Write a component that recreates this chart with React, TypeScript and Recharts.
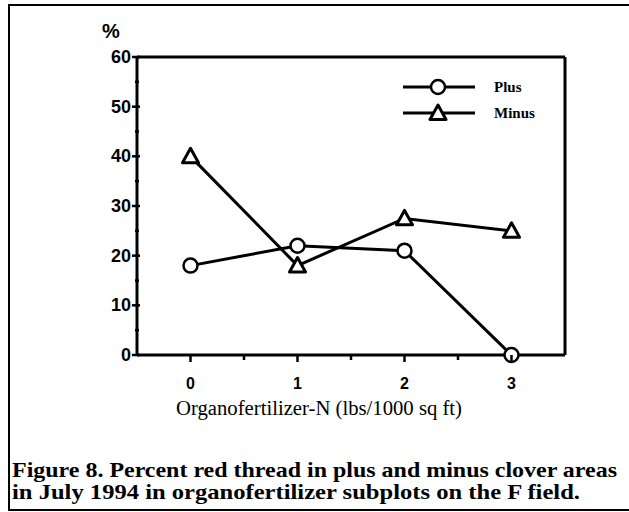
import { Line, LineChart, ReferenceLine, XAxis, YAxis } from 'recharts'

const doses = [0, 1, 2, 3]
const plusValues = [18, 22, 21, 0]
const minusValues = [40, 18, 27.5, 25]
const xTicks = [-0.5, 0, 0.5, 1, 1.5, 2, 2.5, 3, 3.5]
const yTicks = [0, 5, 10, 15, 20, 25, 30, 35, 40, 45, 50, 55, 60]
const seriesNames = ['Plus', 'Minus']
const xTitle = 'Organofertilizer-N (lbs/1000 sq ft)'
const yUnit = '%'
const captionLines = [
  'Figure 8. Percent red thread in plus and minus clover areas',
  'in July 1994 in organofertilizer subplots on the F field.',
]

const sans = '"Liberation Sans", Arial, sans-serif'
const serif = '"Liberation Serif", "Times New Roman", serif'

function XTick(props: any) {
  const { x, y, payload } = props
  const v = payload.value as number
  if (v === -0.5 || v === 3.5) return <g />
  const major = Number.isInteger(v)
  return (
    <g>
      <line x1={x} x2={x} y1={y} y2={y + (major ? 7 : 5)} stroke="#000" strokeWidth={2.5} />
      {major && (
        <text x={x} y={y + 34} textAnchor="middle" fontFamily={sans} fontWeight={700} fontSize={16} fill="#000">
          {v}
        </text>
      )}
    </g>
  )
}

function YTick(props: any) {
  const { x, y, payload } = props
  const v = payload.value as number
  const major = v % 10 === 0
  return (
    <g>
      <line x1={x - (major ? 5 : 2)} x2={x + (major ? 3 : 2)} y1={y} y2={y} stroke="#000" strokeWidth={2.5} />
      {major && (
        <text x={x - 6} y={y + 6} textAnchor="end" fontFamily={sans} fontWeight={700} fontSize={18} fill="#000">
          {v}
        </text>
      )}
    </g>
  )
}

function TriangleDot(props: any) {
  const { cx, cy } = props
  if (cx == null || cy == null) return <g />
  const s = 8
  return (
    <polygon
      points={`${cx},${cy - s} ${cx - s},${cy + s * 0.8} ${cx + s},${cy + s * 0.8}`}
      fill="#fff"
      stroke="#000"
      strokeWidth={3}
      strokeLinejoin="round"
    />
  )
}

export default function App() {
  const data = doses.map((dose, i) => ({ dose, plus: plusValues[i], minus: minusValues[i] }))

  return (
    <div
      style={{ position: 'absolute', left: 0, top: 0, width: 629, height: 512, background: '#fff', overflow: 'hidden' }}
    >
      <div
        style={{
          position: 'absolute',
          left: 8,
          top: 4,
          width: 640,
          height: 503,
          borderLeft: '2px solid #000',
          borderTop: '2px solid #000',
          borderBottom: '2px solid #000',
        }}
      />
      <div style={{ position: 'absolute', left: 102, top: 20, fontFamily: sans, fontWeight: 700, fontSize: 20 }}>
        {yUnit}
      </div>
      <LineChart width={629} height={512} data={data} margin={{ top: 57, right: 64, bottom: 127, left: 97 }}>
        <XAxis
          type="number"
          dataKey="dose"
          domain={[-0.5, 3.5]}
          ticks={xTicks}
          interval={0}
          tick={<XTick />}
          tickLine={false}
          tickSize={0}
          tickMargin={0}
          height={30}
          axisLine={{ stroke: '#000', strokeWidth: 3 }}
        />
        <YAxis
          type="number"
          domain={[0, 60]}
          ticks={yTicks}
          interval={0}
          tick={<YTick />}
          tickLine={false}
          tickSize={0}
          tickMargin={0}
          width={40}
          axisLine={{ stroke: '#000', strokeWidth: 3 }}
        />
        <ReferenceLine y={60} stroke="#000" strokeWidth={3} />
        <ReferenceLine x={3.5} stroke="#000" strokeWidth={3} />
        <Line
          dataKey="plus"
          name={seriesNames[0]}
          stroke="#000"
          strokeWidth={3}
          dot={{ r: 7, fill: '#fff', stroke: '#000', strokeWidth: 2.5 }}
          isAnimationActive={false}
        />
        <Line
          dataKey="minus"
          name={seriesNames[1]}
          stroke="#000"
          strokeWidth={3}
          dot={<TriangleDot />}
          isAnimationActive={false}
        />
      </LineChart>
      <svg style={{ position: 'absolute', left: 395, top: 75 }} width={160} height={50}>
        <line x1={8} x2={80} y1={12} y2={12} stroke="#000" strokeWidth={3} />
        <circle cx={43} cy={12} r={7} fill="#fff" stroke="#000" strokeWidth={2.5} />
        <text x={99} y={17} fontFamily={serif} fontWeight={700} fontSize={15}>
          {seriesNames[0]}
        </text>
        <line x1={8} x2={80} y1={38} y2={38} stroke="#000" strokeWidth={3} />
        <TriangleDot cx={43} cy={38} />
        <text x={99} y={43} fontFamily={serif} fontWeight={700} fontSize={15}>
          {seriesNames[1]}
        </text>
      </svg>
      <svg style={{ position: 'absolute', left: 0, top: 380 }} width={629} height={132}>
        <text x={176} y={35} fontFamily={serif} fontSize={20} textLength={286} lengthAdjust="spacingAndGlyphs">
          {xTitle}
        </text>
        <text x={12} y={97} fontFamily={serif} fontWeight={700} fontSize={21} textLength={605} lengthAdjust="spacingAndGlyphs">
          {captionLines[0]}
        </text>
        <text x={12} y={119} fontFamily={serif} fontWeight={700} fontSize={21} textLength={568} lengthAdjust="spacingAndGlyphs">
          {captionLines[1]}
        </text>
      </svg>
    </div>
  )
}
